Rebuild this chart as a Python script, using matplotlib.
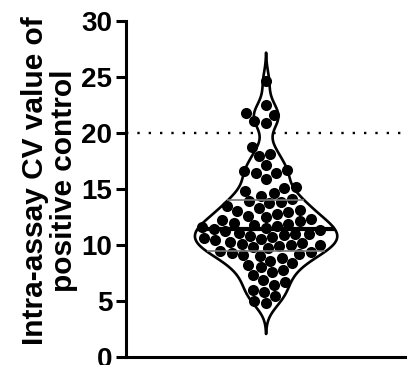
import numpy as np
import matplotlib
matplotlib.use('Agg')
import matplotlib.pyplot as plt
import seaborn as sns

# Intra-assay CV (%) of the positive control, one value per run
cv_values = [
    24.6, 22.5, 21.8, 21.6, 21.1, 20.9,
    18.7, 18.1, 17.9, 17.1, 16.7, 16.6, 16.4, 16.4, 15.9, 15.2, 15.1,
    14.8, 14.6, 14.4,
    14.1, 13.9, 13.8, 13.7, 13.5, 13.3, 13.1, 13.0,
    12.9, 12.8, 12.6, 12.5, 12.3, 12.2, 12.1, 12.0,
    11.9, 11.8, 11.7, 11.6, 11.5, 11.4, 11.3, 11.2, 11.1, 11.0, 11.0,
    10.9, 10.8, 10.7, 10.6, 10.5, 10.4, 10.3, 10.2, 10.1, 10.0, 10.0,
    9.9, 9.8, 9.7, 9.5,
    9.4, 9.3, 9.2, 9.1, 9.0, 8.8, 8.6, 8.4, 8.2, 8.0, 7.8, 7.6, 7.3,
    6.9, 6.7, 6.4, 6.0, 5.8, 5.4, 5.0, 4.8,
]
y_ticks = [0, 5, 10, 15, 20, 25, 30]
threshold = 20
y_label = 'Intra-assay CV value of\npositive control'

plt.rcParams['font.family'] = ['Liberation Sans', 'DejaVu Sans']

fig = plt.figure(figsize=(4.08, 3.65), dpi=100)
ax = fig.add_axes([0.309, 0.022, 0.684, 0.921])

vals = np.array(cv_values)

# gaussian kernel density for the violin outline
bw = 1.0
grid = np.linspace(vals.min() - 2.7, vals.max() + 2.6, 500)
dens = np.exp(-0.5 * ((grid[:, None] - vals[None, :]) / bw) ** 2).sum(axis=1)
half = dens / dens.max() * 0.255

ax.axhline(threshold, color='black', lw=1.7, linestyle=(0, (1, 3.8)), zorder=1)
ax.fill_betweenx(grid, -half, half, facecolor='white', edgecolor='black',
                 lw=1.9, zorder=2)

sns.swarmplot(y=vals, ax=ax, color='black', size=8, zorder=3)

# median (thick) and quartiles (thin)
q1, med, q3 = np.percentile(vals, [25, 50, 75])
for q, lw, col in [(q1, 1.2, '#777777'), (q3, 1.2, '#777777'), (med, 3.0, 'black')]:
    w = np.interp(q, grid, half)
    ax.plot([-w, w], [q, q], color=col, lw=lw, zorder=4, solid_capstyle='butt')

ax.set_xlim(-0.5, 0.5)
ax.set_ylim(0, 30)
ax.set_yticks(y_ticks)
ax.set_xticks([])
ax.set_xlabel('')
ax.tick_params(axis='y', length=7, width=2.2, labelsize=20, pad=3)
for lab in ax.get_yticklabels():
    lab.set_fontweight('bold')
for s in ['top', 'right']:
    ax.spines[s].set_visible(False)
for s in ['left', 'bottom']:
    ax.spines[s].set_linewidth(2.2)
ax.set_ylabel(y_label, fontsize=21.5, fontweight='bold', linespacing=1.05)
ax.yaxis.set_label_coords(-0.172, 0.525)

fig.savefig('out.png', dpi=100)
